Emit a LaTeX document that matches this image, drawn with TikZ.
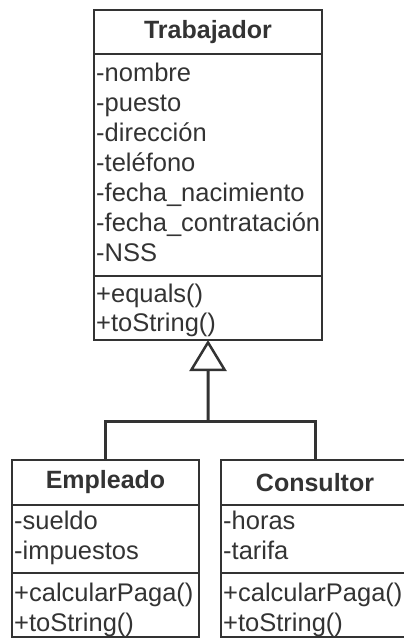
\documentclass[tikz,border=0pt]{standalone}
\usepackage{fontspec}
\setmainfont{Liberation Sans}
\usetikzlibrary{arrows.meta}
\definecolor{ink}{HTML}{333333}
\begin{document}
\begin{tikzpicture}[x=1bp,y=-1bp,
  box/.style={draw=ink, line width=2bp, anchor=north west, inner sep=0pt, outer sep=0pt},
  cname/.style={font=\fontsize{25bp}{30bp}\selectfont\bfseries, text=ink, anchor=center, inner sep=0pt},
  item/.style={font=\fontsize{25.5bp}{30bp}\selectfont, text=ink, anchor=west, inner sep=0pt, text height=18bp, text depth=5bp},
  conn/.style={draw=ink, line width=3bp}]
\useasboundingbox (0,0) rectangle (403,639);
% Trabajador
\node[box, minimum width=228bp, minimum height=44bp] (ttit) at (94,10) {};
\node[box, minimum width=228bp, minimum height=222bp] (tatt) at (94,54) {};
\node[box, minimum width=228bp, minimum height=64bp] (tmet) at (94,276) {};
\node[cname] (tname) at (ttit.center) {Trabajador};
\node[item] (ta1) at (96,75) {-nombre};
\node[item] (ta2) at (96,105) {-puesto};
\node[item] (ta3) at (96,135) {-dirección};
\node[item] (ta4) at (96,165) {-teléfono};
\node[item] (ta5) at (96,195) {-fecha\_nacimiento};
\node[item] (ta6) at (96,225) {-fecha\_contratación};
\node[item] (ta7) at (96,255) {-NSS};
\node[item] (tm1) at (96,296) {+equals()};
\node[item] (tm2) at (96,325) {+toString()};
% Empleado
\node[box, minimum width=187bp, minimum height=45bp] (etit) at (12,460) {};
\node[box, minimum width=187bp, minimum height=68bp] (eatt) at (12,505) {};
\node[box, minimum width=187bp, minimum height=64bp] (emet) at (12,573) {};
\node[cname] (ename) at (etit.center) {Empleado};
\node[item] (ea1) at (14,523) {-sueldo};
\node[item] (ea2) at (14,553) {-impuestos};
\node[item] (em1) at (14,595) {+calcularPaga()};
\node[item] (em2) at (14,625) {+toString()};
% Consultor
\node[box, minimum width=188bp, minimum height=45bp] (ctit) at (221,460) {};
\node[box, minimum width=188bp, minimum height=68bp] (catt) at (221,505) {};
\node[box, minimum width=188bp, minimum height=64bp] (cmet) at (221,573) {};
\node[cname] (cname) at (ctit.center) {Consultor};
\node[item] (ca1) at (223,523) {-horas};
\node[item] (ca2) at (223,553) {-tarifa};
\node[item] (cm1) at (223,595) {+calcularPaga()};
\node[item] (cm2) at (223,625) {+toString()};
% connectors
\coordinate (jn) at (208,421);
\draw[conn] (etit.north) |- (jn) -| (ctit.north);
\draw[conn, -{Triangle[open, length=31bp, width=37bp, line width=2.5bp]}] (jn) -- (tmet.south);
\end{tikzpicture}
\end{document}
